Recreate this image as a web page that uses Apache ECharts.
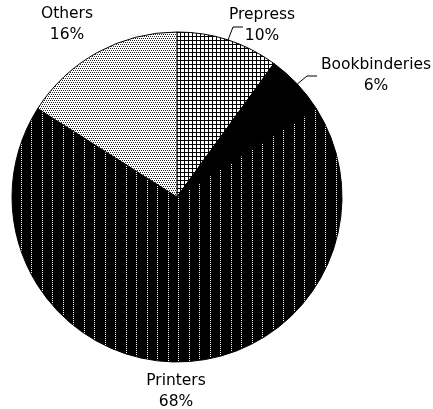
<!DOCTYPE html>
<html>
<head>
<meta charset="utf-8">
<script src="https://cdn.jsdelivr.net/npm/echarts@6/dist/echarts.min.js"></script>
<style>
html,body{margin:0;padding:0;background:#fff;}
#chart{width:433px;height:409px;}
</style>
</head>
<body>
<div id="chart"></div>
<script>
const categories = ['Prepress', 'Bookbinderies', 'Printers', 'Others'];
const values = [10, 6, 68, 16];

function makePattern(w, h, bg, fg, pixels) {
  const c = document.createElement('canvas');
  c.width = w; c.height = h;
  const ctx = c.getContext('2d');
  ctx.fillStyle = bg; ctx.fillRect(0, 0, w, h);
  ctx.fillStyle = fg;
  pixels.forEach(p => ctx.fillRect(p[0], p[1], p[2] || 1, p[3] || 1));
  return { image: c, repeat: 'repeat' };
}

// Prepress: grid
const gridPat = makePattern(4, 4, '#fff', '#000', [[0, 0, 4, 1], [0, 0, 1, 4]]);
// Printers: black with white dotted vertical lines
const stripePat = makePattern(21, 2, '#000', '#fff', [[0, 0], [10, 0]]);
// Others: stipple
const dotPat = makePattern(4, 4, '#fff', '#222', [[0, 0], [2, 0], [1, 2], [3, 2]]);
const fills = [gridPat, '#000', stripePat, dotPat];

const labelPos = [
  { x: 262, y: 25, line: [[233, 27], [243, 27]] },
  { x: 376, y: 75, line: [[307, 76], [317, 76]] },
  { x: 176, y: 391, line: null },
  { x: 67, y: 24, line: null }
];

const chart = echarts.init(document.getElementById('chart'), null, { renderer: 'canvas' });
chart.setOption({
  animation: false,
  backgroundColor: '#fff',
  series: [{
    type: 'pie',
    center: [177, 197],
    radius: 165,
    startAngle: 90,
    clockwise: true,
    avoidLabelOverlap: false,
    itemStyle: { borderColor: '#000', borderWidth: 1 },
    emphasis: { disabled: true },
    label: {
      show: true,
      position: 'outside',
      formatter: p => p.name + '\n' + p.value + '%',
      fontFamily: 'DejaVu Sans',
      fontSize: 15.5,
      lineHeight: 21,
      color: '#000',
      align: 'center'
    },
    labelLine: { show: true, length: 10, length2: 10, lineStyle: { color: '#000', width: 1 } },
    labelLayout: function (params) {
      const lp = labelPos[params.dataIndex];
      const res = { x: lp.x, y: lp.y, align: 'center', verticalAlign: 'middle' };
      if (lp.line && params.labelLinePoints) {
        res.labelLinePoints = [params.labelLinePoints[0], lp.line[0], lp.line[1]];
      }
      return res;
    },
    data: categories.map((name, i) => ({
      name: name,
      value: values[i],
      itemStyle: { color: fills[i] },
      labelLine: { show: !!labelPos[i].line }
    }))
  }]
});
</script>
</body>
</html>
